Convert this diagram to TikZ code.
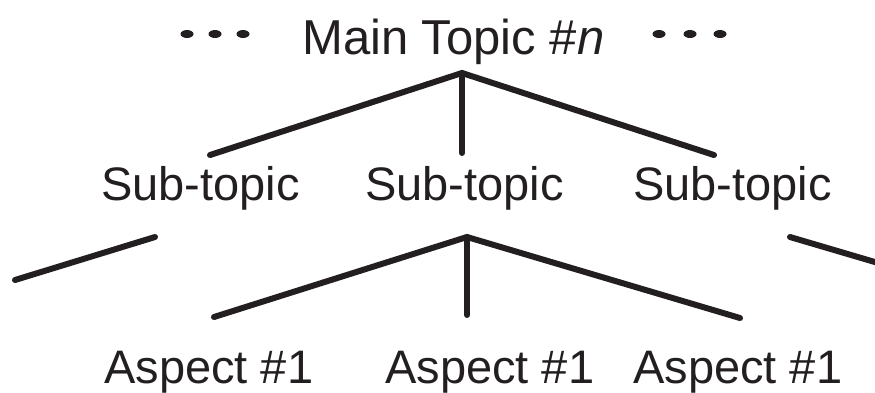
\documentclass[tikz,border=0pt]{standalone}
\usepackage{fontspec}
\setmainfont{Liberation Sans}
\definecolor{ink}{RGB}{35,31,32}
\begin{document}
\begin{tikzpicture}[x=1pt,y=1pt,
  lbl/.style={anchor=base west,inner sep=0pt,text=ink,font=\fontsize{47}{56}\selectfont},
  mainlbl/.style={anchor=base west,inner sep=0pt,text=ink,font=\fontsize{49}{58}\selectfont},
  branch/.style={draw=ink,line width=6pt,line cap=round},
  dot/.style={fill=ink}]
\useasboundingbox (0,0) rectangle (875,-392);
\clip (0,0) rectangle (875,-392);
% texts
\node[mainlbl] (main) at (302,-54) {Main Topic \#\textit{n}};
\node[lbl] (s1) at (101,-200) {Sub-topic};
\node[lbl] (s2) at (365,-200) {Sub-topic};
\node[lbl] (s3) at (633,-200) {Sub-topic};
\node[lbl] (a1) at (104,-383) {Aspect \#1};
\node[lbl] (a2) at (385,-383) {Aspect \#1};
\node[lbl] (a3) at (633,-383) {Aspect \#1};
% dots
\foreach \x in {187,215,243,659,690,720}
  \fill[dot] (\x,-34) ellipse (6.5 and 4);
% top branches
\coordinate (t0) at (462,-73);
\coordinate (t1) at (210,-155);
\coordinate (t2) at (462,-153);
\coordinate (t3) at (714,-155);
\draw[branch] (t1) -- (t0) -- (t3);
\draw[branch] (t0) -- (t2);
% second branches
\coordinate (b0) at (467,-237);
\coordinate (b1) at (214,-317);
\coordinate (b2) at (467,-315);
\coordinate (b3) at (740,-318);
\draw[branch] (b1) -- (b0) -- (b3);
\draw[branch] (b0) -- (b2);
% fragments
\coordinate (l1) at (15,-280);
\coordinate (l2) at (155,-237);
\draw[branch] (l1) -- (l2);
\coordinate (r1) at (790,-237);
\coordinate (r2) at (885,-265);
\draw[branch] (r1) -- (r2);
\end{tikzpicture}
\end{document}
